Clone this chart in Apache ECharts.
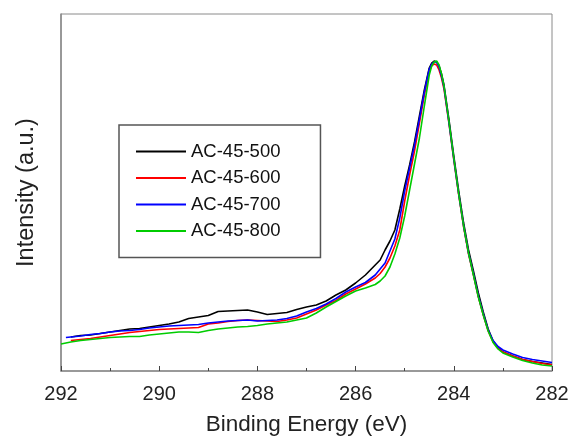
<!DOCTYPE html>
<html>
<head>
<meta charset="utf-8">
<script src="https://cdn.jsdelivr.net/npm/echarts@6/dist/echarts.min.js"></script>
<style>
html,body{margin:0;padding:0;background:#fff;}
#chart{width:574px;height:444px;}
</style>
</head>
<body>
<div id="chart"></div>
<script>
const seriesNames = ['AC-45-500', 'AC-45-600', 'AC-45-700', 'AC-45-800'];
const energy = [292.0, 291.9, 291.8, 291.6, 291.4, 291.2, 291.0, 290.8, 290.6, 290.4, 290.2, 290.0, 289.8, 289.6, 289.4, 289.2, 289.0, 288.8, 288.6, 288.4, 288.2, 288.0, 287.8, 287.6, 287.4, 287.2, 287.0, 286.8, 286.6, 286.4, 286.2, 286.0, 285.8, 285.6, 285.5, 285.4, 285.3, 285.2, 285.1, 285.0, 284.9, 284.8, 284.7, 284.6, 284.5, 284.45, 284.4, 284.35, 284.3, 284.25, 284.2, 284.1, 284.0, 283.9, 283.8, 283.7, 283.6, 283.5, 283.4, 283.3, 283.2, 283.1, 283.0, 282.8, 282.6, 282.4, 282.2, 282.0];
const ac500 = [null, null, 34, 35.5, 36, 37.5, 39, 40.5, 42, 42.5, 44, 45.5, 47, 49, 52.5, 54, 55.5, 59.5, 60, 60.5, 61, 59, 56.5, 57.5, 58.5, 61.5, 64, 66, 70, 76, 81, 88, 96, 106, 111, 121, 130, 141, 162, 185, 206, 229, 255, 281, 303, 308, 310, 309, 305, 297, 286, 252, 215, 180, 148, 121, 100, 78, 59, 42, 30, 23, 19, 15, 11.5, 9.5, 8, 6.5];
const ac600 = [null, null, 30.5, 31.5, 32.5, 34, 35.5, 37, 38.5, 39.5, 40.5, 41.5, 42, 42.5, 43, 43.5, 47, 48, 49.5, 50.5, 51, 50.5, 50, 49.5, 51, 53, 57, 61, 66, 70.5, 77, 82, 87, 93, 97.5, 104, 113, 125, 141, 170, 196, 220, 248, 276, 300, 305, 307, 306, 301, 293, 282, 248, 211, 176, 144, 117, 96, 74, 56, 40, 29, 23, 19, 15, 11.5, 9.5, 7.5, 6];
const ac700 = [null, 33.5, 34, 35, 36.5, 37.5, 39, 40, 40.5, 41.5, 43, 44, 45, 45.5, 46, 46.5, 48, 49, 50, 50.5, 51, 50, 50.5, 51, 52.5, 55, 59, 62.5, 67, 72.5, 79, 84, 88.5, 96, 102, 108, 120, 132, 153, 180, 203, 226, 252, 279, 302, 307, 309, 309, 304, 295, 284, 249, 212, 177, 145, 118, 97, 75, 57, 41, 30.5, 24.5, 21, 17, 13.5, 11.5, 10, 8.5];
const ac800 = [27, 28, 29, 30.5, 31.5, 32.5, 33.5, 34, 34.5, 34.5, 36, 37, 38, 39, 39, 38.5, 40.5, 42, 43, 44, 44.5, 45.5, 47, 48, 49, 51, 53, 58, 64, 69.5, 75, 80, 83, 86.5, 90, 95, 104, 117, 133, 155, 181, 207, 233, 265, 296, 305, 309, 310, 306, 297, 285, 250, 213, 177, 145, 118, 96, 74, 56, 40, 28.5, 22, 18, 14, 10.5, 8, 6, 5];
const colors = ['#000000', '#ff0000', '#0000ff', '#00cc00'];
const xTicks = { min: 282, max: 292, interval: 2 };

const allValues = [ac500, ac600, ac700, ac800];
const chart = echarts.init(document.getElementById('chart'));
const font = 'Liberation Sans, Arial, sans-serif';
chart.setOption({
  animation: false,
  backgroundColor: '#ffffff',
  grid: { left: 61, right: 22, top: 14, bottom: 73, show: true, borderColor: '#8a8a8a', borderWidth: 1 },
  legend: {
    orient: 'vertical',
    left: 119, top: 125,
    padding: [17, 40, 17, 17],
    itemWidth: 50, itemHeight: 14, itemGap: 7.5,
    borderColor: '#555555', borderWidth: 1.5,
    backgroundColor: '#ffffff',
    textStyle: { fontFamily: font, fontSize: 18.5, color: '#111' },
    data: seriesNames.map(n => ({ name: n, icon: 'path://M0,6L50,6L50,8L0,8Z' }))
  },
  xAxis: {
    type: 'value', inverse: true,
    min: xTicks.min, max: xTicks.max, interval: xTicks.interval,
    name: 'Binding Energy (eV)', nameLocation: 'middle', nameGap: 42,
    nameTextStyle: { fontFamily: font, fontSize: 22.5, color: '#222' },
    axisLine: { lineStyle: { color: '#8a8a8a', width: 1.5 } },
    axisTick: { inside: true, length: 5, lineStyle: { color: '#444' } },
    minorTick: { show: true, splitNumber: 2, length: 3, lineStyle: { color: '#444' } },
    axisLabel: { fontFamily: font, fontSize: 20, color: '#222', margin: 13 },
    splitLine: { show: false }
  },
  yAxis: {
    type: 'value', min: 0, max: 357,
    name: 'Intensity (a.u.)', nameLocation: 'middle', nameGap: 22,
    nameTextStyle: { fontFamily: font, fontSize: 23.5, color: '#222' },
    axisLine: { show: true, lineStyle: { color: '#8a8a8a', width: 1.5 } },
    axisTick: { show: false },
    axisLabel: { show: false },
    splitLine: { show: false }
  },
  series: seriesNames.map((n, i) => ({
    name: n, type: 'line', showSymbol: false, symbol: 'none',
    lineStyle: { color: colors[i], width: 1.6 },
    itemStyle: { color: colors[i] },
    data: energy.map((e, k) => [e, allValues[i][k]])
  }))
});
</script>
</body>
</html>
